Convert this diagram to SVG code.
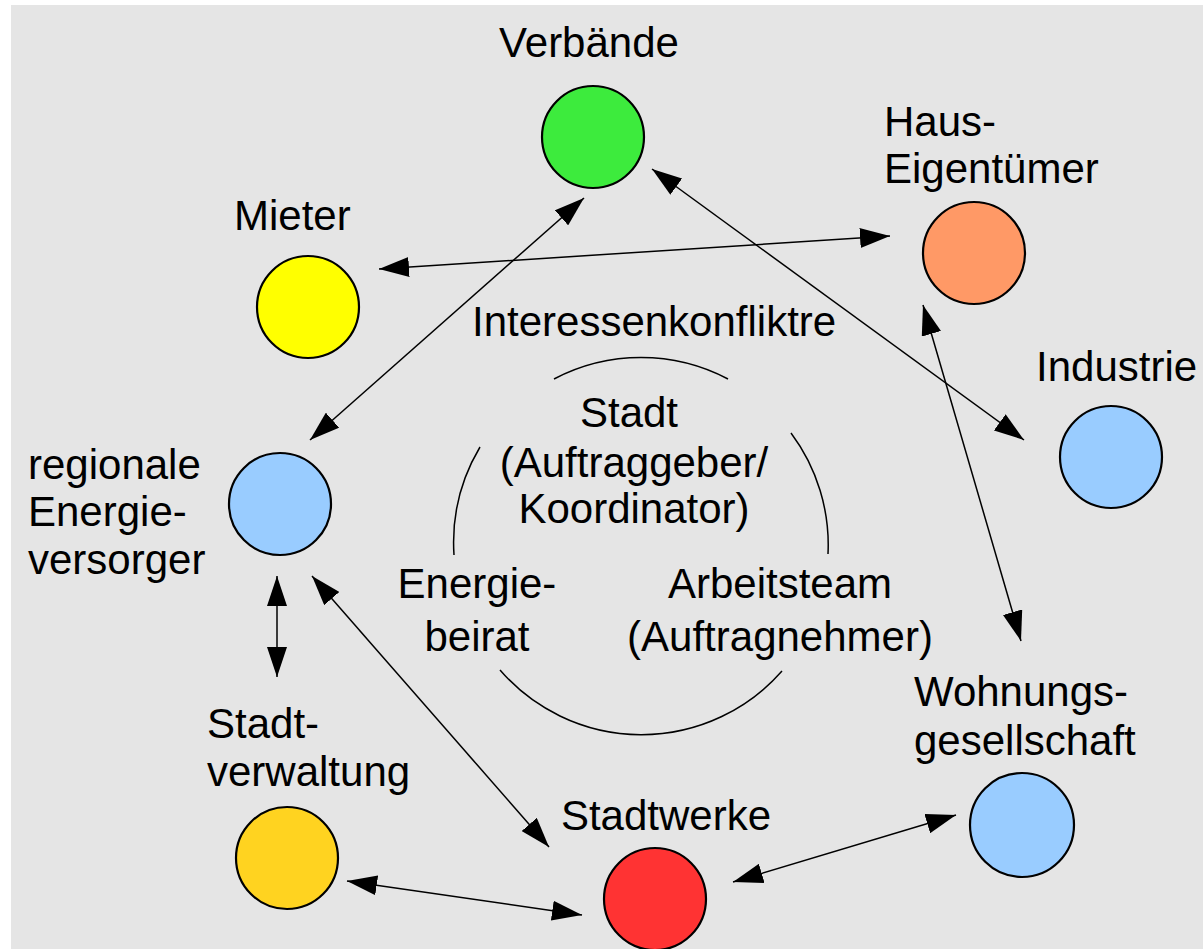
<svg xmlns="http://www.w3.org/2000/svg" width="1203" height="949" viewBox="0 0 1203 949">
<style>
text{font-family:"Liberation Sans",Arial,sans-serif;font-size:42px;fill:#000}
.node{stroke:#000;stroke-width:2.2}
.conn{stroke:#000;stroke-width:1.5;fill:none}
.arc{stroke:#000;stroke-width:1.5;fill:none}
</style>
<defs>
<marker id="ah" markerUnits="userSpaceOnUse" markerWidth="30" markerHeight="20" refX="30" refY="10" orient="auto-start-reverse">
<path d="M0,0 L30,10 L0,20 Z" fill="#000"/>
</marker>
</defs>
<rect x="11" y="5" width="1192" height="944" fill="#e5e5e5"/>
<g id="center">
<path class="arc" d="M554,379 A187,187 0 0 1 728,379"/>
<path class="arc" d="M791,433 A187,187 0 0 1 828,554"/>
<path class="arc" d="M782,671 A187,187 0 0 1 500,670"/>
<path class="arc" d="M454,555 A187,187 0 0 1 480,447"/>
<text x="472" y="336">Interessenkonfliktre</text>
<text x="629" y="427" text-anchor="middle">Stadt</text>
<text x="634" y="477" text-anchor="middle">(Auftraggeber/</text>
<text x="634" y="523" text-anchor="middle">Koordinator)</text>
<text x="477" y="598" text-anchor="middle">Energie-</text>
<text x="477" y="651" text-anchor="middle">beirat</text>
<text x="780" y="598" text-anchor="middle">Arbeitsteam</text>
<text x="780" y="651" text-anchor="middle">(Auftragnehmer)</text>
</g>
<g id="connectors">
<line class="conn" x1="584" y1="198" x2="310" y2="440" marker-start="url(#ah)" marker-end="url(#ah)"/>
<line class="conn" x1="379" y1="269" x2="890" y2="236" marker-start="url(#ah)" marker-end="url(#ah)"/>
<line class="conn" x1="652" y1="169" x2="1024" y2="440" marker-start="url(#ah)" marker-end="url(#ah)"/>
<line class="conn" x1="923" y1="305" x2="1021" y2="641" marker-start="url(#ah)" marker-end="url(#ah)"/>
<line class="conn" x1="277" y1="576" x2="277" y2="677" marker-start="url(#ah)" marker-end="url(#ah)"/>
<line class="conn" x1="312" y1="576" x2="549" y2="847" marker-start="url(#ah)" marker-end="url(#ah)"/>
<line class="conn" x1="347" y1="881" x2="582" y2="915" marker-start="url(#ah)" marker-end="url(#ah)"/>
<line class="conn" x1="733" y1="882" x2="956" y2="815" marker-start="url(#ah)" marker-end="url(#ah)"/>
</g>
<g id="verbaende">
<circle class="node" cx="593" cy="137" r="51" fill="#3deb3d"/>
<text x="589" y="57" text-anchor="middle">Verbände</text>
</g>
<g id="hauseigentuemer">
<circle class="node" cx="974" cy="253" r="51" fill="#ff9966"/>
<text x="884" y="136">Haus-</text>
<text x="884" y="183">Eigentümer</text>
</g>
<g id="mieter">
<circle class="node" cx="308" cy="307" r="51" fill="#ffff00"/>
<text x="234" y="230">Mieter</text>
</g>
<g id="industrie">
<circle class="node" cx="1111" cy="457" r="51" fill="#99ccff"/>
<text x="1036" y="381">Industrie</text>
</g>
<g id="energieversorger">
<circle class="node" cx="280" cy="504" r="51" fill="#99ccff"/>
<text x="28" y="479">regionale</text>
<text x="28" y="526">Energie-</text>
<text x="28" y="574">versorger</text>
</g>
<g id="stadtverwaltung">
<circle class="node" cx="287" cy="858" r="51" fill="#ffd320"/>
<text x="207" y="738">Stadt-</text>
<text x="207" y="786">verwaltung</text>
</g>
<g id="stadtwerke">
<circle class="node" cx="655" cy="899" r="51" fill="#ff3333"/>
<text x="666" y="830" text-anchor="middle">Stadtwerke</text>
</g>
<g id="wohnungsgesellschaft">
<circle class="node" cx="1022" cy="825" r="52" fill="#99ccff"/>
<text x="914" y="706">Wohnungs-</text>
<text x="914" y="755">gesellschaft</text>
</g>
</svg>
